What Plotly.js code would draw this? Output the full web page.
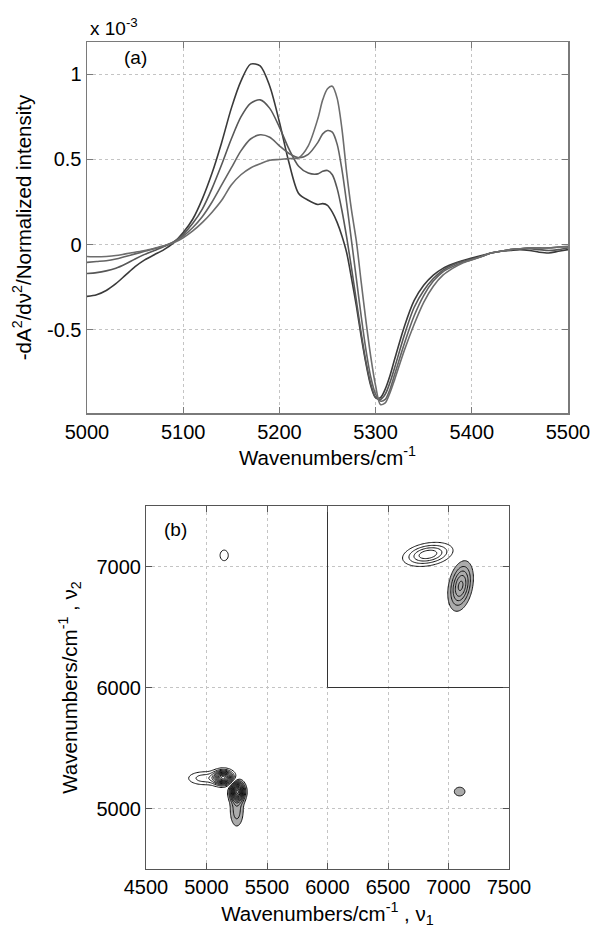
<!DOCTYPE html>
<html><head><meta charset="utf-8">
<script src="https://cdn.plot.ly/plotly-3.0.1.min.js"></script>
<style>html,body{margin:0;padding:0;background:#fff}</style>
</head><body>
<div id="chart" style="width:590px;height:929px"></div>
<script>
// ---- Panel (a): second-derivative spectra (values in units of 1e-3) ----
const wavenumbers = [5000,5010,5020,5030,5040,5050,5060,5070,5080,5090,5100,5110,5120,5130,5140,5150,5160,5170,5180,5190,5200,5210,5220,5230,5240,
  5245,5250,5255,5260,5265,5270,5275,5280,5285,5290,5295,5300,5305,5310,5315,5320,
  5330,5340,5350,5360,5370,5380,5390,5400,5410,5420,5430,5440,5450,5460,5470,5480,5490,5500];
const spectrum1 = [-0.305,-0.295,-0.27,-0.23,-0.18,-0.13,-0.09,-0.06,-0.03,0.01,0.07,0.15,0.27,0.42,0.60,0.80,0.96,1.06,1.05,0.93,0.72,0.48,0.30,0.26,0.235,
  0.24,0.23,0.19,0.13,0.05,-0.05,-0.20,-0.36,-0.54,-0.70,-0.83,-0.90,-0.90,-0.85,-0.77,-0.67,
  -0.48,-0.33,-0.24,-0.18,-0.14,-0.115,-0.095,-0.08,-0.065,-0.05,-0.04,-0.035,-0.03,-0.035,-0.045,-0.05,-0.04,-0.03];
const spectrum2 = [-0.17,-0.165,-0.155,-0.14,-0.115,-0.085,-0.058,-0.035,-0.012,0.015,0.06,0.125,0.21,0.33,0.47,0.62,0.75,0.83,0.85,0.80,0.69,0.56,0.46,0.42,0.415,
  0.43,0.435,0.41,0.33,0.20,0.04,-0.14,-0.33,-0.52,-0.69,-0.82,-0.90,-0.91,-0.88,-0.81,-0.72,
  -0.53,-0.37,-0.27,-0.20,-0.15,-0.12,-0.10,-0.085,-0.07,-0.05,-0.04,-0.03,-0.025,-0.025,-0.03,-0.035,-0.03,-0.02];
const spectrum3 = [-0.105,-0.10,-0.095,-0.085,-0.07,-0.055,-0.04,-0.025,-0.008,0.015,0.05,0.10,0.165,0.25,0.35,0.45,0.55,0.62,0.645,0.63,0.58,0.535,0.51,0.53,0.60,
  0.65,0.67,0.66,0.59,0.44,0.24,0.02,-0.20,-0.42,-0.62,-0.78,-0.88,-0.92,-0.91,-0.85,-0.76,
  -0.58,-0.42,-0.30,-0.215,-0.16,-0.13,-0.105,-0.09,-0.07,-0.05,-0.04,-0.03,-0.025,-0.02,-0.02,-0.02,-0.015,-0.015];
const spectrum4 = [-0.07,-0.072,-0.07,-0.065,-0.055,-0.045,-0.035,-0.022,-0.008,0.01,0.04,0.08,0.13,0.19,0.26,0.35,0.41,0.45,0.475,0.495,0.50,0.505,0.51,0.58,0.74,
  0.85,0.915,0.93,0.86,0.68,0.42,0.20,0.02,-0.22,-0.45,-0.66,-0.83,-0.94,-0.93,-0.87,-0.79,
  -0.62,-0.47,-0.34,-0.245,-0.18,-0.14,-0.11,-0.09,-0.07,-0.05,-0.04,-0.03,-0.025,-0.02,-0.02,-0.02,-0.015,-0.01];
const topXTicks = [5000, 5100, 5200, 5300, 5400, 5500];
const topYTicks = [-0.5, 0, 0.5, 1];
const topYTickText = ['-0.5', '0', '0.5', '1'];

// ---- Panel (b): 2D correlation map, peaks ----
const posPeakNu1 = [6830, 5140, 4980, 5146];
const posPeakNu2 = [7100, 5255, 5250, 7092];
const posPeakW1  = [118, 50, 92, 35];
const posPeakW2  = [56, 36, 38, 45];
const posPeakAmp = [4.85, 12, 2.6, 1.6];
const posPeakRho = [0.3, 0, 0, 0];
const negPeakNu1 = [7100, 5255, 5250, 7092];
const negPeakNu2 = [6840, 5140, 4980, 5140];
const negPeakW1  = [58, 36, 38, 45];
const negPeakW2  = [115, 50, 90, 37];
const negPeakAmp = [5.3, 12, 2.6, 1.6];
const negPeakRho = [0.3, 0, 0, 0];
const mapTicksX = [4500, 5000, 5500, 6000, 6500, 7000, 7500];
const mapTicksY = [5000, 6000, 7000];
const boxNu1 = [6000, 6000, 7500];
const boxNu2 = [7500, 6000, 6000];

const grid = [];
for (let v = 4500; v <= 7500; v += 10) grid.push(v);
function blob(x, y, cx, cy, s1, s2, a, r) {
  const dx = (x - cx) / s1, dy = (y - cy) / s2;
  const q = (dx*dx - 2*r*dx*dy + dy*dy) / (2*(1 - r*r));
  return q > 40 ? 0 : a * Math.exp(-q);
}
const zMap = grid.map(y => grid.map(x => {
  let s = 0;
  for (let i = 0; i < posPeakNu1.length; i++) s += blob(x, y, posPeakNu1[i], posPeakNu2[i], posPeakW1[i], posPeakW2[i], posPeakAmp[i], posPeakRho[i]);
  for (let i = 0; i < negPeakNu1.length; i++) s -= blob(x, y, negPeakNu1[i], negPeakNu2[i], negPeakW1[i], negPeakW2[i], negPeakAmp[i], negPeakRho[i]);
  return s;
}));

const font = 'Liberation Sans, Arial, Helvetica, sans-serif';
const lineColors = ['#3a3a3a', '#575757', '#636363', '#6d6d6d'];
const spectra = [spectrum1, spectrum2, spectrum3, spectrum4];
const traces = spectra.map((s, i) => ({
  type: 'scatter', mode: 'lines', x: wavenumbers, y: s, xaxis: 'x', yaxis: 'y',
  line: {color: lineColors[i], width: 1.6, shape: 'spline', smoothing: 0.8},
  showlegend: false, hoverinfo: 'skip'
}));

traces.push({
  type: 'contour', x: grid, y: grid, z: zMap, xaxis: 'x2', yaxis: 'y2',
  contours: {type: 'constraint', operation: '>', value: -1},
  fillcolor: '#ababab', line: {width: 0, color: 'rgba(0,0,0,0)'},
  showscale: false, showlegend: false, hoverinfo: 'skip'
});
traces.push({
  type: 'contour', x: grid, y: grid, z: zMap, xaxis: 'x2', yaxis: 'y2',
  autocontour: false, contours: {coloring: 'none', start: 1, end: 12, size: 1},
  line: {color: '#111', width: 1, smoothing: 1},
  showscale: false, showlegend: false, hoverinfo: 'skip'
});
traces.push({
  type: 'contour', x: grid, y: grid, z: zMap, xaxis: 'x2', yaxis: 'y2',
  autocontour: false, contours: {coloring: 'none', start: -12, end: -1, size: 1},
  line: {color: '#111', width: 1, smoothing: 1},
  showscale: false, showlegend: false, hoverinfo: 'skip'
});
traces.push({
  type: 'scatter', mode: 'lines', x: boxNu1, y: boxNu2, xaxis: 'x2', yaxis: 'y2',
  line: {color: '#333', width: 1}, showlegend: false, hoverinfo: 'skip', cliponaxis: false
});

const axBase = {
  showline: true, mirror: 'ticks', ticks: 'inside', ticklen: 6, zeroline: false,
  showgrid: true, gridcolor: '#c4c4c4', griddash: 'dot', gridwidth: 1,
  ticklabeloverflow: 'allow',
  tickfont: {family: font, size: 20, color: '#000'}
};
const titleFont = {family: font, size: 20.5, color: '#000'};
const layout = {
  width: 590, height: 929, margin: {l: 0, r: 0, t: 0, b: 0},
  paper_bgcolor: '#fff', plot_bgcolor: '#fff', showlegend: false,
  font: {family: font, color: '#000'},
  xaxis: Object.assign({}, axBase, {
    domain: [87/590, 568/590], anchor: 'y', range: [5000, 5500], tickvals: topXTicks,
    linecolor: '#7a7a7a', tickcolor: '#7a7a7a', linewidth: 1.5,
    title: {text: 'Wavenumbers/cm<sup>-1</sup>', font: titleFont, standoff: 9}
  }),
  yaxis: Object.assign({}, axBase, {
    domain: [(929-413)/929, (929-42)/929], anchor: 'x', range: [-0.99, 1.19],
    tickvals: topYTicks, ticktext: topYTickText,
    linecolor: '#7a7a7a', tickcolor: '#7a7a7a', linewidth: 1.5,
    title: {text: '-dA<sup>2</sup>/dν<sup>2</sup>/Normalized intensity', font: titleFont, standoff: 10}
  }),
  xaxis2: Object.assign({}, axBase, {
    domain: [146/590, 509/590], anchor: 'y2', range: [4500, 7500], tickvals: mapTicksX,
    linecolor: '#555', tickcolor: '#555', linewidth: 1,
    title: {text: 'Wavenumbers/cm<sup>-1</sup> , ν<sub>1</sub>', font: titleFont, standoff: 9}
  }),
  yaxis2: Object.assign({}, axBase, {
    domain: [(929-869)/929, (929-506)/929], anchor: 'x2', range: [4500, 7500], tickvals: mapTicksY,
    linecolor: '#555', tickcolor: '#555', linewidth: 1,
    title: {text: 'Wavenumbers/cm<sup>-1</sup> , ν<sub>2</sub>', font: titleFont, standoff: 13}
  }),
  annotations: [
    {text: 'x 10<sup>-3</sup>', xref: 'paper', yref: 'paper', x: 88/590, y: (929-27)/929,
     xanchor: 'left', yanchor: 'middle', showarrow: false, font: {family: font, size: 19}},
    {text: '(a)', xref: 'paper', yref: 'paper', x: 135/590, y: (929-57)/929,
     xanchor: 'center', yanchor: 'middle', showarrow: false, font: {family: font, size: 19}},
    {text: '(b)', xref: 'paper', yref: 'paper', x: 175/590, y: (929-529)/929,
     xanchor: 'center', yanchor: 'middle', showarrow: false, font: {family: font, size: 19}}
  ]
};
Plotly.newPlot('chart', traces, layout, {displayModeBar: false, staticPlot: true});
</script>
</body></html>
